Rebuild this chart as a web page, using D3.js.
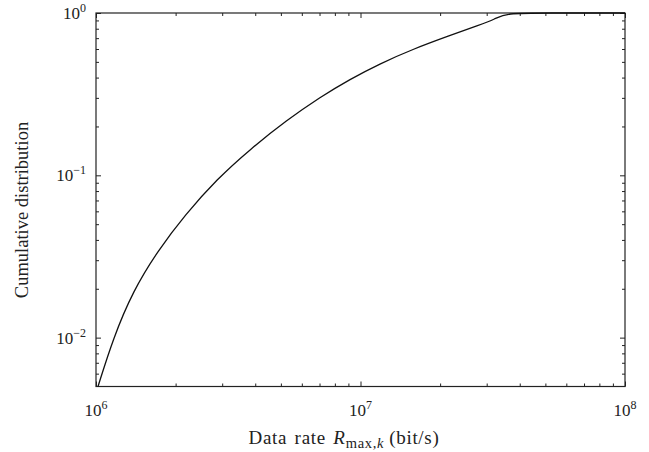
<!DOCTYPE html>
<html><head><meta charset="utf-8">
<script src="https://cdn.jsdelivr.net/npm/d3@7"></script>
<style>body{margin:0;background:#fff}svg{display:block}text{font-family:"Liberation Serif","DejaVu Serif",serif;fill:#222}</style>
</head><body><svg id="c" width="649" height="452"></svg>
<script>
const rate = [1.0176e6,1.16e6,1.38e6,1.715e6,2.17e6,2.868e6,3.821e6,5.275e6,7.03e6,9.13e6,1.185e7,1.579e7,2.18e7,2.83e7,3.225e7,3.549e7,5e7,1e8];
const cdf  = [0.005,0.00986,0.0194,0.0344,0.0570,0.0949,0.1446,0.2191,0.3029,0.391,0.4877,0.599,0.7278,0.845,0.918,1.0,1.0,1.0];
const xMajor = [1e6,1e7,1e8];
const xMajorExp = ["6","7","8"];
const yMajor = [1e-2,1e-1,1];
const yMajorExp = ["−2","−1","0"];
const xMinor = [2e6,3e6,4e6,5e6,6e6,7e6,8e6,9e6,2e7,3e7,4e7,5e7,6e7,7e7,8e7,9e7];
const yMinor = [0.006,0.007,0.008,0.009,0.02,0.03,0.04,0.05,0.06,0.07,0.08,0.09,0.2,0.3,0.4,0.5,0.6,0.7,0.8,0.9];

const L=96,R=625,T=13,B=386.5;
const svg=d3.select("#c");
const x=d3.scaleLog().domain([1e6,1e8]).range([L,R]);
const y=d3.scaleLog().domain([0.005,1]).range([B,T]);

function ax(gen, tr){ return svg.append("g").attr("transform",tr).call(gen).call(g=>{g.select(".domain").remove();g.selectAll("line").attr("stroke","#222").attr("stroke-width",1);}); }
ax(d3.axisBottom(x).tickValues(xMajor).tickSizeInner(-5).tickSizeOuter(0).tickFormat(""),`translate(0,${B})`);
ax(d3.axisTop(x).tickValues(xMajor).tickSizeInner(-5).tickSizeOuter(0).tickFormat(""),`translate(0,${T})`);
ax(d3.axisLeft(y).tickValues(yMajor).tickSizeInner(-5).tickSizeOuter(0).tickFormat(""),`translate(${L},0)`);
ax(d3.axisRight(y).tickValues(yMajor).tickSizeInner(-5).tickSizeOuter(0).tickFormat(""),`translate(${R},0)`);
ax(d3.axisBottom(x).tickValues(xMinor).tickSizeInner(-3).tickSizeOuter(0).tickFormat(""),`translate(0,${B})`);
ax(d3.axisTop(x).tickValues(xMinor).tickSizeInner(-3).tickSizeOuter(0).tickFormat(""),`translate(0,${T})`);
ax(d3.axisLeft(y).tickValues(yMinor).tickSizeInner(-3).tickSizeOuter(0).tickFormat(""),`translate(${L},0)`);
ax(d3.axisRight(y).tickValues(yMinor).tickSizeInner(-3).tickSizeOuter(0).tickFormat(""),`translate(${R},0)`);

svg.append("rect").attr("x",L).attr("y",T).attr("width",R-L).attr("height",B-T)
  .attr("fill","none").attr("stroke","#222").attr("stroke-width",1.2);

const line=d3.line().x((d,i)=>x(rate[i])).y((d,i)=>y(cdf[i])).curve(d3.curveBasis);
svg.append("path").datum(rate).attr("d",line).attr("fill","none").attr("stroke","#111").attr("stroke-width",1.3);

xMajor.forEach((v,i)=>{
  const t=svg.append("text").attr("x",x(v)).attr("y",416).attr("text-anchor","middle").attr("font-size",17);
  t.append("tspan").text("10");
  t.append("tspan").attr("dy",-7).attr("font-size",12).text(xMajorExp[i]);
});
yMajor.forEach((v,i)=>{
  const t=svg.append("text").attr("x",86).attr("y",y(v)+6).attr("text-anchor","end").attr("font-size",17);
  t.append("tspan").text("10");
  t.append("tspan").attr("dy",-7).attr("font-size",12).text(yMajorExp[i]);
});

const xl=svg.append("text").attr("x",344).attr("y",444).attr("text-anchor","middle").attr("font-size",19)
  .attr("letter-spacing",0.7).attr("word-spacing",2);
xl.append("tspan").text("Data rate ");
xl.append("tspan").attr("font-style","italic").text("R");
xl.append("tspan").attr("dy",4).attr("font-size",14.5).text("max,");
xl.append("tspan").attr("font-size",14.5).attr("font-style","italic").text("k");
xl.append("tspan").attr("dy",-4).attr("dx",5).text("(bit/s)");

svg.append("text").attr("transform","translate(28,210) rotate(-90)").attr("text-anchor","middle").attr("font-size",18.5).text("Cumulative distribution");
</script></body></html>
